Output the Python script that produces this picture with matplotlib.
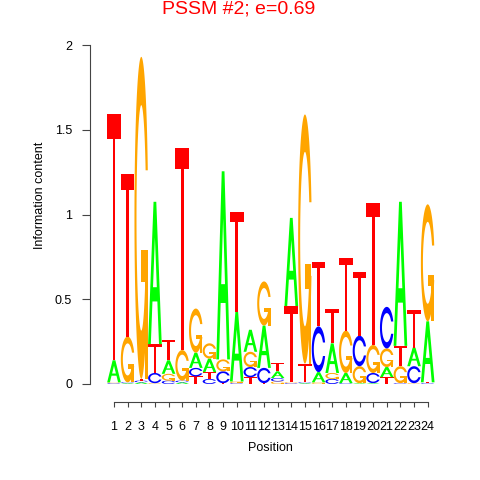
import numpy as np
import matplotlib
matplotlib.use('Agg')
import matplotlib.pyplot as plt
from matplotlib.path import Path
from matplotlib.patches import PathPatch, Polygon

# information content of each base at each position
positions = list(range(1, 25))
A = [0.13, 0.005, 0.01, 0.84, 0.08, 0.01, 0.09, 0.08, 1.11, 0.41, 0.13, 0.25,
     0.04, 0.52, 0.005, 0.06, 0.175, 0.06, 0.005, 0.005, 0.06, 0.85, 0.11, 0.36]
C = [0.005, 0.005, 0.01, 0.06, 0.02, 0.01, 0.05, 0.03, 0.07, 0.005, 0.06, 0.09,
     0.02, 0.005, 0.005, 0.27, 0.03, 0.005, 0.18, 0.06, 0.245, 0.005, 0.10, 0.005]
G = [0.005, 0.27, 1.90, 0.005, 0.04, 0.18, 0.26, 0.09, 0.07, 0.01, 0.09, 0.26,
     0.015, 0.005, 1.47, 0.01, 0.035, 0.25, 0.10, 0.165, 0.11, 0.10, 0.005, 0.69]
T = [1.45, 0.96, 0.01, 0.17, 0.12, 1.19, 0.045, 0.04, 0.005, 0.59, 0.04, 0.005,
     0.05, 0.45, 0.11, 0.38, 0.20, 0.43, 0.375, 0.84, 0.04, 0.12, 0.22, 0.005]

colors = {'A': '#00FF00', 'C': '#0000FF', 'G': '#FFA500', 'T': '#FF0000'}


# letter outlines in a unit box (seqLogo style polygons)
def c_outline():
    a1 = np.linspace(0.3 + np.pi / 2, np.pi, 100)
    a2 = np.linspace(np.pi, 1.5 * np.pi, 100)
    xl = np.concatenate([0.5 + 0.5 * np.sin(a1), 0.5 + 0.5 * np.sin(a2)])
    yl = np.concatenate([0.5 + 0.5 * np.cos(a1), 0.5 + 0.5 * np.cos(a2)])
    x = np.concatenate([xl, xl[::-1]])
    y = np.concatenate([yl, 1 - yl[::-1]])
    hmax = (0.5 + 0.5 * np.cos(a1)).max()
    xi1 = 0.5 + 0.35 * np.sin(a1)
    yi1 = 0.5 + 0.35 * np.cos(a1)
    keep = yi1 <= hmax
    xi1, yi1 = xi1[keep], yi1[keep]
    yi1[0] = hmax
    xi = np.concatenate([xi1, 0.5 + 0.35 * np.sin(a2)])
    yi = np.concatenate([yi1, 0.5 + 0.35 * np.cos(a2)])
    x1 = np.concatenate([xi, xi[::-1]])
    y1 = np.concatenate([yi, 1 - yi[::-1]])
    return np.concatenate([x, x1[::-1]]), np.concatenate([y, y1[::-1]])


cx, cy = c_outline()
r1 = cx.max()
shapes = {
    'A': [(np.array([0, 4, 6, 10, 8, 6.8, 3.2, 2]) / 10, np.array([0, 10, 10, 0, 0, 3, 3, 0]) / 10)],
    'T': [(np.array([0, 10, 10, 6, 6, 4, 4, 0]) / 10, np.array([10, 10, 9, 9, 0, 0, 9, 9]) / 10)],
    'C': [(cx, cy)],
    'G': [(cx, cy), (np.array([r1, 0.5, 0.5, r1 - 0.2, r1 - 0.2, r1]), np.array([0.4, 0.4, 0.3, 0.3, 0, 0]))],
}
a_hole = (np.array([3.6, 5, 6.4]) / 10, np.array([4, 7.5, 4]) / 10)


def draw_letter(ax, letter, x, y, w, h):
    if letter == 'A':
        ox, oy = shapes['A'][0]
        outer = np.column_stack([x - w / 2 + ox * w, y + oy * h])
        inner = np.column_stack([x - w / 2 + a_hole[0] * w, y + a_hole[1] * h])
        # outer is clockwise, hole counter-clockwise
        verts = np.vstack([outer, outer[:1], inner[::-1], inner[-1:]])
        codes = ([Path.MOVETO] + [Path.LINETO] * (len(outer) - 1) + [Path.CLOSEPOLY]
                 + [Path.MOVETO] + [Path.LINETO] * (len(inner) - 1) + [Path.CLOSEPOLY])
        ax.add_patch(PathPatch(Path(verts, codes), facecolor=colors[letter], edgecolor='none'))
        return
    for px, py in shapes[letter]:
        ax.add_patch(Polygon(np.column_stack([x - w / 2 + px * w, y + py * h]),
                             closed=True, facecolor=colors[letter], edgecolor='none'))


plt.rcParams['font.family'] = ['Liberation Sans', 'DejaVu Sans']
fig = plt.figure(figsize=(4.8, 4.8), dpi=100)
ax = fig.add_axes([90 / 480, 96 / 480, 355 / 480, 339 / 480])

# stack letters, smallest at the bottom
for i, pos in enumerate(positions):
    stack = sorted([('A', A[i]), ('C', C[i]), ('G', G[i]), ('T', T[i])], key=lambda s: s[1])
    y = 0
    for letter, h in stack:
        draw_letter(ax, letter, pos, y, 1.0, h)
        y += h

ax.set_xlim(1 - 24 / 13.64, 24 + 17.3 / 13.64)
ax.set_ylim(0, 2)

for s in ['top', 'right']:
    ax.spines[s].set_visible(False)
ax.spines['bottom'].set_position(('outward', 13))
ax.spines['bottom'].set_bounds(1, 24)
ax.spines['left'].set_bounds(0, 2)
for s in ['bottom', 'left']:
    ax.spines[s].set_color('#444444')
    ax.spines[s].set_linewidth(0.8)

ax.set_xticks(positions)
ax.set_xticklabels([str(p) for p in positions], fontsize=9)
ax.set_yticks([0, 0.5, 1, 1.5, 2])
ax.set_yticklabels(['0', '0.5', '1', '1.5', '2'], fontsize=9)
ax.tick_params(axis='x', length=3.6, width=0.8, color='#444444', pad=10)
ax.tick_params(axis='y', length=5.8, width=0.8, color='#444444', pad=7)

ax.set_xlabel('Position', fontsize=9)
ax.xaxis.set_label_coords((270.8 - 90) / 355, -(442 - 384) / 339)
ax.set_ylabel('Information content', fontsize=9)
ax.yaxis.set_label_coords((46 - 90) / 355, (384 - 195) / 339)

fig.text(238.5 / 480, 1 - 9 / 480, 'PSSM #2; e=0.69', color='#FF0000', fontsize=14, ha='center', va='center')

fig.savefig('out.png', dpi=100)
